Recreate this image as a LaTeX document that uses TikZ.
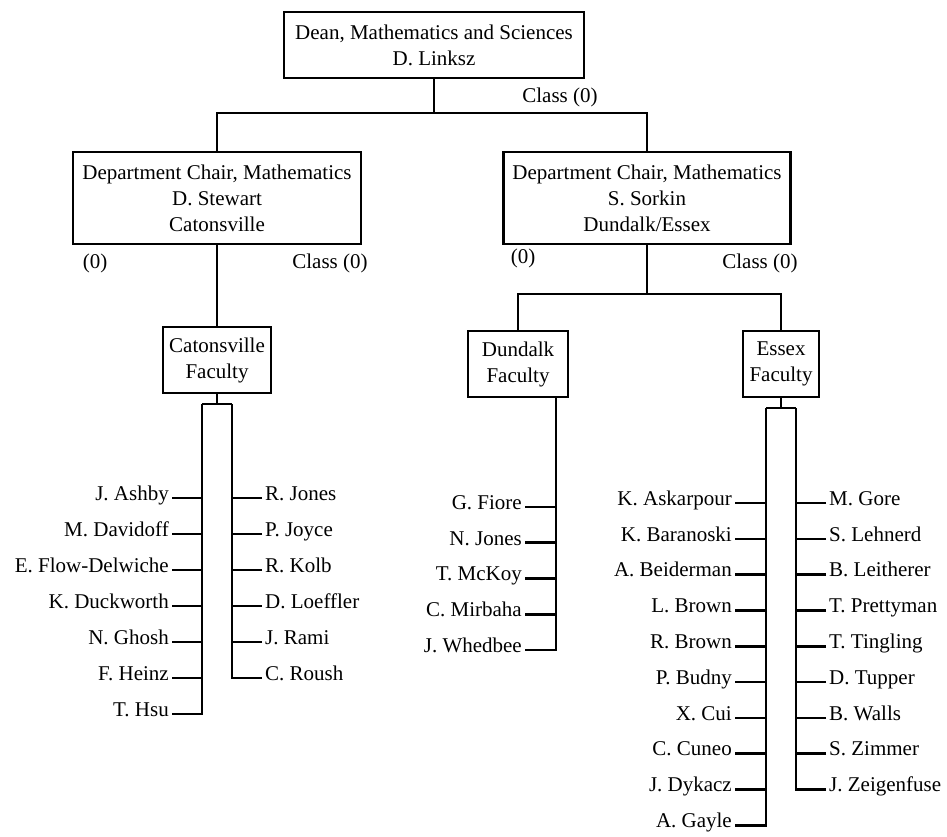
\documentclass[tikz,border=0pt]{standalone}
\usepackage{fontspec}
\setmainfont{Liberation Serif}
\usepackage{tikz}
\usetikzlibrary{positioning}

\tikzset{
  unit/.style={draw, line width=2.6pt, align=center, inner sep=2pt,
               font=\fontsize{21}{26}\selectfont},
  staff/.style={inner sep=3pt, font=\fontsize{21}{26}\selectfont},
  tag/.style={inner sep=0pt, font=\fontsize{21}{26}\selectfont},
  link/.style={line width=2.6pt}
}

\begin{document}
\begin{tikzpicture}[x=1pt, y=-1pt]
\useasboundingbox (0,0) rectangle (947,837);

% offices
\node[unit, minimum width=300pt, minimum height=66pt] (dean) at (434,45)
  {Dean, Mathematics and Sciences\\D. Linksz};
\node[unit, minimum width=288pt, minimum height=92pt] (chairC) at (217,198)
  {Department Chair, Mathematics\\D. Stewart\\Catonsville};
\node[unit, minimum width=287pt, minimum height=92pt] (chairDE) at (647,198)
  {Department Chair, Mathematics\\S. Sorkin\\Dundalk/Essex};
\node[unit, minimum width=108pt, minimum height=66pt] (catFac) at (217,360)
  {Catonsville\\Faculty};
\node[unit, minimum width=100pt, minimum height=66pt] (dundFac) at (518,364)
  {Dundalk\\Faculty};
\node[unit, minimum width=76pt, minimum height=66pt] (essFac) at (781,364)
  {Essex\\Faculty};

% class counts
\node[tag] (clsDean) at (560,97) {Class (0)};
\node[tag] (zeroC) at (95,263) {(0)};
\node[tag] (clsC) at (330,263) {Class (0)};
\node[tag] (zeroDE) at (523,258) {(0)};
\node[tag] (clsDE) at (760,263) {Class (0)};

% reporting lines
\coordinate (deanBar) at (434,113);
\coordinate (deBar) at (647,294);
\draw[link] (dean.south) -- (deanBar);
\draw[link] (chairC.north) |- (deanBar) -| (chairDE.north);
\draw[link] (chairC.south) -- (catFac.north);
\draw[link] (chairDE.south) -- (deBar);
\draw[link] (dundFac.north) |- (deBar) -| (essFac.north);

% Catonsville faculty
\coordinate (catL) at (202,404);
\coordinate (catR) at (232,404);
\draw[link] (catFac.south) -- (catFac.south |- catL);
\draw[link] (catL) -- (catR);
\foreach \nm [count=\i] in {J. Ashby, M. Davidoff, E. Flow-Delwiche,
    K. Duckworth, N. Ghosh, F. Heinz, T. Hsu} {
  \node[staff, anchor=mid east] (cl\i) at (172,{462+36*\i}) {\nm};
  \draw[link] (cl\i.mid east) -- (cl\i.mid east -| catL);
}
\foreach \nm [count=\i] in {R. Jones, P. Joyce, R. Kolb, D. Loeffler,
    J. Rami, C. Roush} {
  \node[staff, anchor=mid west] (cr\i) at (262,{462+36*\i}) {\nm};
  \draw[link] (cr\i.mid west) -- (cr\i.mid west -| catR);
}
\draw[link] (catL) |- (cl7.mid east);
\draw[link] (catR) |- (cr6.mid west);

% Dundalk faculty
\coordinate (dundT) at ([xshift=38pt]dundFac.south);
\foreach \nm [count=\i] in {G. Fiore, N. Jones, T. McKoy, C. Mirbaha,
    J. Whedbee} {
  \node[staff, anchor=mid east] (dl\i) at (525,{471.25+35.75*\i}) {\nm};
  \draw[link] (dl\i.mid east) -- (dl\i.mid east -| dundT);
}
\draw[link] (dundT) |- (dl5.mid east);

% Essex faculty
\coordinate (essL) at (766,408);
\coordinate (essR) at (796,408);
\draw[link] (essFac.south) -- (essFac.south |- essL);
\draw[link] (essL) -- (essR);
\foreach \nm [count=\i] in {K. Askarpour, K. Baranoski, A. Beiderman,
    L. Brown, R. Brown, P. Budny, X. Cui, C. Cuneo, J. Dykacz, A. Gayle} {
  \node[staff, anchor=mid east] (el\i) at (735,{467.2+35.8*\i}) {\nm};
  \draw[link] (el\i.mid east) -- (el\i.mid east -| essL);
}
\foreach \nm [count=\i] in {M. Gore, S. Lehnerd, B. Leitherer, T. Prettyman,
    T. Tingling, D. Tupper, B. Walls, S. Zimmer, J. Zeigenfuse} {
  \node[staff, anchor=mid west] (er\i) at (826,{467.2+35.8*\i}) {\nm};
  \draw[link] (er\i.mid west) -- (er\i.mid west -| essR);
}
\draw[link] (essL) |- (el10.mid east);
\draw[link] (essR) |- (er9.mid west);
\end{tikzpicture}
\end{document}
